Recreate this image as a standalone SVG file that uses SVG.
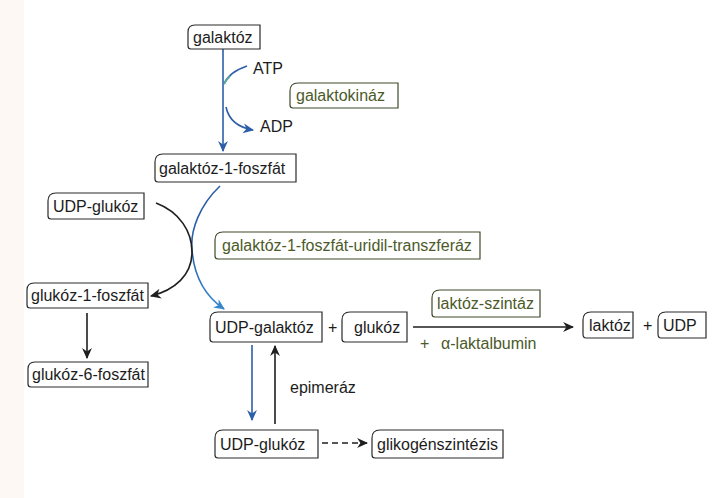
<svg xmlns="http://www.w3.org/2000/svg" width="720" height="498" viewBox="0 0 720 498">
<style>
.bg{fill:#ffffff}
.node path{fill:#ffffff;stroke:#2a2a2a;stroke-width:1.2}
.enz path{fill:#ffffff;stroke:#3e4a28;stroke-width:1.2}
text{font-family:"Liberation Sans",Arial,sans-serif;font-size:16px;fill:#1c1c1c}
.enz text,.green{fill:#4c5a2a}
.blue{fill:none;stroke:#2c5fa8;stroke-width:1.6}
.black{fill:none;stroke:#1f1f1f;stroke-width:1.6}
</style>
<defs>
<marker id="ab" viewBox="0 0 10 10" refX="9" refY="5" markerWidth="11" markerHeight="11" markerUnits="userSpaceOnUse" orient="auto">
<path d="M0,0.5 L10,5 L0,9.5 L3,5 Z" fill="#2c5fa8"/>
</marker>
<marker id="al" viewBox="0 0 10 10" refX="9" refY="5" markerWidth="11" markerHeight="11" markerUnits="userSpaceOnUse" orient="auto">
<path d="M0,0.5 L10,5 L0,9.5 L3,5 Z" fill="#3a88cc"/>
</marker>
<marker id="ak" viewBox="0 0 10 10" refX="9" refY="5" markerWidth="11" markerHeight="11" markerUnits="userSpaceOnUse" orient="auto">
<path d="M0,0.5 L10,5 L0,9.5 L3,5 Z" fill="#1f1f1f"/>
</marker>
<linearGradient id="gl" x1="0" y1="0" x2="0" y2="1">
<stop offset="0" stop-color="#2c5fa8"/>
<stop offset="0.5" stop-color="#2c5fa8"/>
<stop offset="1" stop-color="#3a8ad0"/>
</linearGradient>
</defs>
<rect class="bg" x="0" y="0" width="720" height="498"/>
<rect x="0" y="0" width="24" height="498" fill="#fdf8f4"/>

<g id="connectors">
<path class="blue" d="M223,49 L223,151" marker-end="url(#ab)"/>
<path class="blue" d="M247,66 Q229,72 224,84"/>
<path d="M230,76 Q226,80 224,84" fill="none" stroke="#5aa89a" stroke-width="2"/>
<path class="blue" d="M226,107 Q230,126 253,130" marker-end="url(#ab)"/>
<path fill="none" stroke="url(#gl)" stroke-width="1.6" d="M220,186 C200,205 190,230 192,250 C194,275 205,296 224,309" marker-end="url(#al)"/>
<path class="black" d="M156,203 C180,212 192,232 192,252 C192,275 175,290 151,296" marker-end="url(#ak)"/>
<path class="black" d="M87,313 L87,358" marker-end="url(#ak)"/>
<path class="blue" d="M252,345 L252,420" marker-end="url(#ab)"/>
<path class="black" d="M275,424 L275,346" marker-end="url(#ak)"/>
<path class="black" d="M322,443 L367,443" stroke-dasharray="6,4" marker-end="url(#ak)"/>
<path class="black" d="M413,327 L573,327" marker-end="url(#ak)"/>
</g>

<g id="atp"><text x="253" y="74">ATP</text></g>
<g id="adp"><text x="260" y="132">ADP</text></g>

<g id="galaktoz" class="node"><path d="M188,46 L188,32 Q188,25 195,25 L260,25 L260,49 L191,49 Q188,49 188,46 Z"/><text x="193" y="43">galaktóz</text></g>
<g id="galaktokinaz" class="enz"><path d="M290,105 L290,91 Q290,83 298,83 L398,83 L398,108 L293,108 Q290,108 290,105 Z"/><text x="296" y="101">galaktokináz</text></g>
<g id="gal1p" class="node"><path d="M155,179 L155,162 Q155,154 163,154 L296,154 L296,182 L158,182 Q155,182 155,179 Z"/><text x="159" y="174">galaktóz-1-foszfát</text></g>
<g id="udpglc1" class="node"><path d="M48,216 L48,201 Q48,193 56,193 L144,193 L144,219 L51,219 Q48,219 48,216 Z"/><text x="53" y="212">UDP-glukóz</text></g>
<g id="transzferaz" class="enz"><path d="M215,256 L215,240 Q215,232 223,232 L480,232 L480,259 L218,259 Q215,259 215,256 Z"/><text x="222" y="251">galaktóz-1-foszfát-uridil-transzferáz</text></g>
<g id="glc1p" class="node"><path d="M27,305 L27,290 Q27,283 34,283 L148,283 L148,308 L30,308 Q27,308 27,305 Z"/><text x="31" y="301">glukóz-1-foszfát</text></g>
<g id="glc6p" class="node"><path d="M28,384 L28,369 Q28,362 35,362 L148,362 L148,387 L31,387 Q28,387 28,384 Z"/><text x="32" y="380">glukóz-6-foszfát</text></g>
<g id="udpgal" class="node"><path d="M210,339 L210,320 Q210,312 218,312 L322,312 L322,342 L213,342 Q210,342 210,339 Z"/><text x="215" y="333">UDP-galaktóz</text></g>
<g id="plus1"><text x="328" y="333">+</text></g>
<g id="glukoz" class="node"><path d="M342,339 L342,320 Q342,312 350,312 L407,312 L407,342 L345,342 Q342,342 342,339 Z"/><text x="354" y="333">glukóz</text></g>
<g id="laktozszintaz" class="enz"><path d="M432,314 L432,298 Q432,290 440,290 L540,290 L540,317 L435,317 Q432,317 432,314 Z"/><text x="437" y="309">laktóz-szintáz</text></g>
<g id="laktalbumin"><text class="green" x="420" y="349" font-size="15">+</text><text class="green" x="441" y="349" font-size="15">α-laktalbumin</text></g>
<g id="laktoz" class="node"><path d="M583,334 L583,320 Q583,312 591,312 L633,312 L633,338 L586,338 Q583,338 583,334 Z"/><text x="589" y="331" font-size="15">laktóz</text></g>
<g id="plus2"><text x="643" y="331">+</text></g>
<g id="udp" class="node"><path d="M658,334 L658,320 Q658,312 666,312 L706,312 L706,338 L661,338 Q658,338 658,334 Z"/><text x="663" y="331">UDP</text></g>
<g id="epimeraz"><text x="290" y="393" font-size="15">epimeráz</text></g>
<g id="udpglc2" class="node"><path d="M215,455 L215,438 Q215,430 223,430 L318,430 L318,458 L218,458 Q215,458 215,455 Z"/><text x="220" y="450">UDP-glukóz</text></g>
<g id="glikogen" class="node"><path d="M372,455 L372,438 Q372,430 380,430 L503,430 L503,458 L375,458 Q372,458 372,455 Z"/><text x="377" y="450" font-size="15.5">glikogénszintézis</text></g>
</svg>
